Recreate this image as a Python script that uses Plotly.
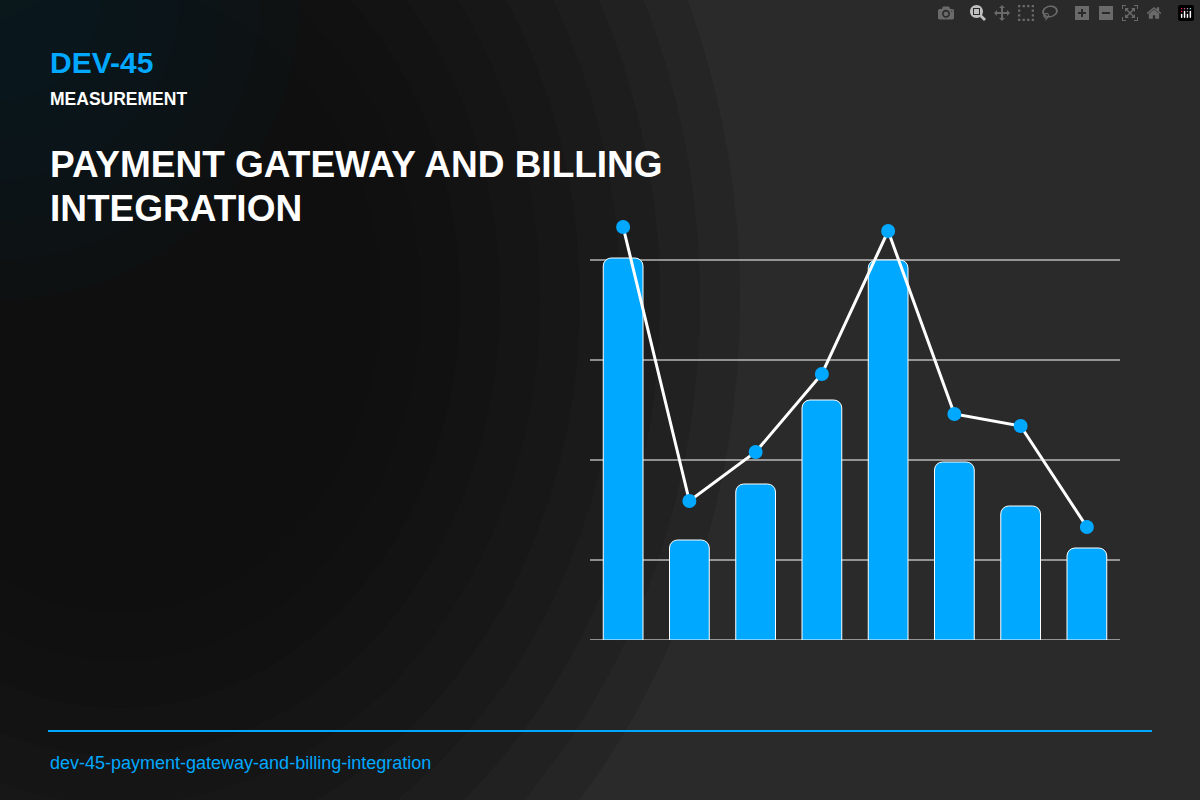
import plotly.graph_objects as go

categories = ["A", "B", "C", "D", "E", "F", "G", "H"]
bar_values = [3.82, 1.00, 1.56, 2.40, 3.80, 1.78, 1.34, 0.92]
line_values = [4.13, 1.39, 1.88, 2.66, 4.09, 2.26, 2.14, 1.13]
grid_values = [0.8, 1.8, 2.8, 3.8]

BLUE = "#00a8ff"
L, R, T, B = 590, 80, 220, 160
W, H = 1200, 800
pw, ph = W - L - R, H - T - B

def px(x):
    return (x - L) / pw

def py(y):
    return (H - B - y) / ph

fig = go.Figure()
fig.add_trace(go.Bar(x=categories, y=bar_values, marker=dict(color=BLUE, line=dict(color="white", width=1)),
                     width=0.6, hoverinfo="skip"))
fig.add_trace(go.Scatter(x=categories, y=line_values, mode="lines+markers",
                         line=dict(color="white", width=3),
                         marker=dict(color=BLUE, size=14)))

shapes = [
    dict(type="rect", xref="paper", yref="paper", x0=px(0), x1=px(W), y0=py(H), y1=py(0),
         fillcolor="#2a2a2a", line_width=0, layer="below"),
]
# soft dark glow on the left
for i in range(10):
    r = 620 - i * 40
    cx, cy = 120, 300
    shapes.append(dict(type="circle", xref="paper", yref="paper",
                       x0=px(cx - r), x1=px(cx + r), y0=py(cy + r * 1.2), y1=py(cy - r * 1.2),
                       fillcolor="rgba(10,10,10,0.16)", line_width=0, layer="below"))
for i in range(6):
    r = 300 - i * 40
    shapes.append(dict(type="circle", xref="paper", yref="paper",
                       x0=px(-r), x1=px(r), y0=py(r), y1=py(-r),
                       fillcolor="rgba(10,30,40,0.12)", line_width=0, layer="below"))
shapes.append(dict(type="line", xref="paper", yref="paper", x0=px(48), x1=px(1152), y0=py(731), y1=py(731),
                   line=dict(color=BLUE, width=2)))
for g in grid_values + [0]:
    shapes.append(dict(type="line", xref="paper", yref="y", x0=0, x1=1, y0=g, y1=g,
                       line=dict(color="white", width=1), layer="below"))

def ann(text, x, y, size, color, bold=True):
    return dict(text=f"<b>{text}</b>" if bold else text, xref="paper", yref="paper",
                x=px(x), y=py(y), xanchor="left", yanchor="middle", showarrow=False,
                font=dict(family="Liberation Sans, Arial", size=size, color=color))

annotations = [
    ann("DEV-45", 48, 62, 30, BLUE),
    ann("MEASUREMENT", 48, 99, 17.5, "white"),
    ann("PAYMENT GATEWAY AND BILLING", 48, 164, 37, "white"),
    ann("INTEGRATION", 48, 208, 37, "white"),
    ann("dev-45-payment-gateway-and-billing-integration", 48, 763, 18, BLUE, bold=False),
]

fig.update_layout(
    width=W, height=H, margin=dict(l=L, r=R, t=T, b=B),
    paper_bgcolor="#2a2a2a", plot_bgcolor="rgba(0,0,0,0)",
    showlegend=False, shapes=shapes, annotations=annotations,
    barcornerradius=8,
    xaxis=dict(visible=False, range=[-0.5, 7.5]),
    yaxis=dict(visible=False, range=[0, 4.2]),
)
fig.write_html("out.html", post_script="document.body.style.margin='0';document.body.style.overflow='hidden';")
